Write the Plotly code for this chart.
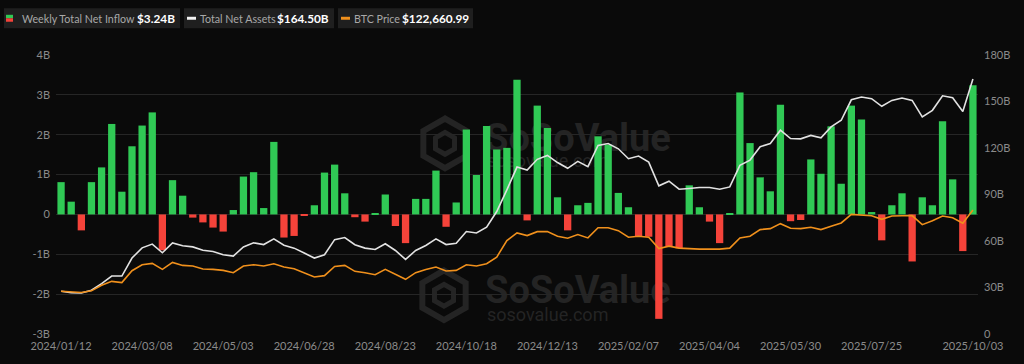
import math
import pandas as pd
import plotly.graph_objects as go

# ---------------- data ----------------
weeks = [d.strftime("%Y/%m/%d") for d in pd.date_range("2024-01-12", "2025-10-03", freq="7D")]

net_inflow_b = [
    0.81, 0.32, -0.40, 0.81, 1.18, 2.27, 0.57, 1.71, 2.23, 2.56,
    -0.90, 0.86, 0.47, -0.08, -0.20, -0.33, -0.43, 0.11, 0.95, 1.06,
    0.16, 1.82, -0.58, -0.54, -0.04, 0.23, 1.05, 1.25, 0.53, -0.07,
    -0.18, 0.03, 0.50, -0.29, -0.72, 0.39, 0.39, 1.10, -0.31, 0.30,
    2.13, 0.99, 2.22, 1.63, 1.67, 3.38, -0.15, 2.73, 2.17, 0.43,
    -0.40, 0.23, 0.29, 1.96, 1.75, 0.54, 0.18, -0.56, -0.56, -2.62,
    -0.80, -0.85, 0.73, 0.18, -0.18, -0.72, 0.02, 3.06, 1.79, 0.93,
    0.58, 2.75, -0.17, -0.14, 1.38, 1.02, 2.21, 0.77, 2.73, 2.38,
    0.06, -0.65, 0.23, 0.53, -1.18, 0.43, 0.23, 2.34, 0.88, -0.92,
    3.24,
]

total_net_assets_b = [
    27.6, 26.7, 26.5, 28.2, 32.5, 37.4, 37.4, 49.0, 55.6, 58.0,
    52.4, 58.8, 56.9, 56.2, 54.0, 53.2, 51.1, 50.3, 56.2, 58.8,
    57.7, 61.4, 57.3, 55.4, 52.2, 49.0, 51.1, 60.9, 62.2, 57.6,
    55.4, 54.5, 58.2, 53.9, 48.1, 53.9, 57.1, 61.4, 57.7, 58.6,
    66.1, 65.2, 68.9, 79.0, 93.0, 107.7, 105.8, 112.7, 115.2, 110.6,
    106.9, 111.4, 108.0, 121.6, 122.9, 119.5, 113.1, 114.8, 110.9, 95.6,
    98.6, 93.4, 93.9, 94.5, 94.5, 93.4, 94.9, 108.8, 112.2, 120.8,
    122.9, 131.5, 126.1, 125.9, 128.1, 126.6, 133.6, 137.9, 151.1, 152.9,
    151.8, 146.9, 150.7, 152.2, 150.7, 140.0, 144.3, 153.7, 152.4, 143.6,
    164.5,
]

btc_price = [
    42300, 41700, 41000, 42700, 48200, 52100, 50900, 62650, 68560, 69840,
    63930, 70800, 67870, 67250, 64300, 63930, 62950, 60690, 67250, 68560,
    67250, 69540, 66290, 64620, 60690, 56460, 57740, 66890, 67870, 62000,
    60690, 58720, 63930, 58720, 54100, 60690, 63930, 66290, 62360, 62950,
    68560, 67250, 69540, 76100, 92500, 100000, 97400, 101300, 101300, 96800,
    94800, 98400, 95100, 105200, 105200, 102300, 95800, 96800, 95800, 84600,
    86900, 85000, 84300, 84000, 84000, 84000, 85000, 95100, 96800, 103300,
    104300, 109200, 104600, 104300, 105600, 103300, 106600, 109900, 118400, 117700,
    117100, 113500, 116800, 117000, 117100, 108200, 112100, 116800, 115100, 109600,
    122660.99,
]

x_tick_labels = ["2024/01/12", "2024/03/08", "2024/05/03", "2024/06/28", "2024/08/23",
                 "2024/10/18", "2024/12/13", "2025/02/07", "2025/04/04", "2025/05/30",
                 "2025/07/25", "2025/10/03"]
left_tick_vals = [-3, -2, -1, 0, 1, 2, 3, 4]
left_tick_text = ["-3B", "-2B", "-1B", "0", "1B", "2B", "3B", "4B"]
right_tick_vals = [0, 30, 60, 90, 120, 150, 180]
right_tick_text = ["0", "30B", "60B", "90B", "120B", "150B", "180B"]

legend_labels = ["Weekly Total Net Inflow", "Total Net Assets", "BTC Price"]
legend_values = ["$3.24B", "$164.50B", "$122,660.99"]

# ---------------- styling ----------------
BG = "#0a0a0a"
GREEN = "#30c955"
RED = "#f5433a"
ORANGE = "#f0901c"
WHITE = "#e2e2e2"
GRID = "#262626"
TICK = "#8a8a8a"
WM = "#242424"
BOX = "#1f1f1f"
FONT = "Lato, 'Noto Sans', sans-serif"

W, H = 1024, 364
ML, MR, MT, MB = 56, 46, 55, 28
PW, PH = W - ML - MR, H - MT - MB


def px(x):
    return (x - ML) / PW


def py(y):
    return (H - MB - y) / PH


fig = go.Figure()

fig.add_trace(go.Bar(
    x=weeks, y=net_inflow_b,
    marker=dict(color=[GREEN if v >= 0 else RED for v in net_inflow_b], line=dict(width=0)),
    width=0.72, yaxis="y", name="Weekly Total Net Inflow",
))
fig.add_trace(go.Scatter(
    x=weeks, y=total_net_assets_b, mode="lines",
    line=dict(color=WHITE, width=1.6), yaxis="y2", name="Total Net Assets",
))
fig.add_trace(go.Scatter(
    x=weeks, y=btc_price, mode="lines",
    line=dict(color=ORANGE, width=1.6), yaxis="y3", name="BTC Price",
))

shapes = []
annotations = []


def rect(x0, y0, x1, y1, color, layer="above"):
    return dict(type="rect", xref="paper", yref="paper",
                x0=px(x0), x1=px(x1), y0=py(y1), y1=py(y0),
                fillcolor=color, line=dict(width=0), layer=layer)


# legend boxes
box_spans = [(4, 180), (184, 334), (338, 473)]
for (bx0, bx1) in box_spans:
    shapes.append(rect(bx0, 8, bx1, 28, BOX))
shapes.append(rect(6, 14.5, 13, 18, GREEN))
shapes.append(rect(6, 18, 13, 21.5, RED))
shapes.append(rect(187, 16.5, 196, 19.5, "#f2f2f2"))
shapes.append(rect(341, 16.5, 350, 19.5, ORANGE))

label_left = [20, 198, 352]
value_right = [177, 331, 471]
for lx, vx, label, val in zip(label_left, value_right, legend_labels, legend_values):
    annotations.append(dict(
        x=px(lx), y=py(18.5), xref="paper", yref="paper", xanchor="left", yanchor="middle",
        showarrow=False, text=label, font=dict(family=FONT, size=10.7, color="#a8a8a8"),
    ))
    annotations.append(dict(
        x=px(vx), y=py(18.5), xref="paper", yref="paper", xanchor="right", yanchor="middle",
        showarrow=False, text=f"<b>{val}</b>", font=dict(family=FONT, size=11.8, color="#ffffff"),
    ))


# watermarks (drawn below the traces)
def hexagon(cx, cy, r):
    pts = []
    for k in range(6):
        a = math.radians(90 + 60 * k)
        pts.append((px(cx + r * math.cos(a)), py(cy - r * math.sin(a))))
    return "M " + " L ".join(f"{a},{b}" for a, b in pts) + " Z"


for (lcx, lcy, ty, sy) in [(445, 144, 136, 160), (444, 297, 289, 315)]:
    shapes.append(dict(type="path", path=hexagon(lcx, lcy, 25), xref="paper", yref="paper",
                       line=dict(color=WM, width=6), fillcolor="rgba(0,0,0,0)", layer="below"))
    shapes.append(dict(type="path", path=hexagon(lcx, lcy, 11), xref="paper", yref="paper",
                       line=dict(color=WM, width=5), fillcolor="rgba(0,0,0,0)", layer="below"))
    shapes.append(dict(type="rect", xref="paper", yref="paper",
                       x0=px(482), x1=px(680), y0=py(ty + 16), y1=py(ty - 16),
                       line=dict(width=0), fillcolor="rgba(0,0,0,0)", layer="below",
                       label=dict(text="<b>SoSoValue</b>", textposition="middle left", padding=0,
                                  font=dict(family="Roboto, sans-serif", size=38, color=WM))))
    shapes.append(dict(type="rect", xref="paper", yref="paper",
                       x0=px(484), x1=px(640), y0=py(sy + 8), y1=py(sy - 8),
                       line=dict(width=0), fillcolor="rgba(0,0,0,0)", layer="below",
                       label=dict(text="sosovalue.com", textposition="middle left", padding=0,
                                  font=dict(family="Roboto, sans-serif", size=18, color=WM))))

fig.update_layout(
    width=W, height=H,
    margin=dict(l=ML, r=MR, t=MT, b=MB, pad=0),
    paper_bgcolor=BG, plot_bgcolor=BG,
    showlegend=False,
    font=dict(family=FONT, size=11, color=TICK),
    xaxis=dict(type="category", categoryorder="array", categoryarray=weeks,
               range=[-0.5, len(weeks) - 0.5],
               tickmode="array", tickvals=x_tick_labels, ticktext=x_tick_labels,
               showgrid=False, zeroline=False, showline=False, ticks="",
               ticklabelstandoff=4,
               tickfont=dict(size=11, color=TICK)),
    yaxis=dict(range=[-3, 4], tickmode="array", tickvals=left_tick_vals, ticktext=left_tick_text,
               showgrid=True, gridcolor=GRID, gridwidth=1, zeroline=False, showline=False,
               ticks="", ticklabelstandoff=5, tickfont=dict(size=11, color=TICK)),
    yaxis2=dict(range=[0, 180], overlaying="y", side="right", tickmode="array",
                tickvals=right_tick_vals, ticktext=right_tick_text, showgrid=False,
                zeroline=False, showline=False, ticks="", ticklabelstandoff=5,
                tickfont=dict(size=11, color=TICK)),
    yaxis3=dict(range=[0, 276100], overlaying="y", side="right", visible=False,
                showgrid=False, zeroline=False),
    shapes=shapes,
    annotations=annotations,
)

fig.write_html("out.html", config={"displayModeBar": False},
               post_script="document.body.style.margin='0';document.body.style.background='#0a0a0a';")
